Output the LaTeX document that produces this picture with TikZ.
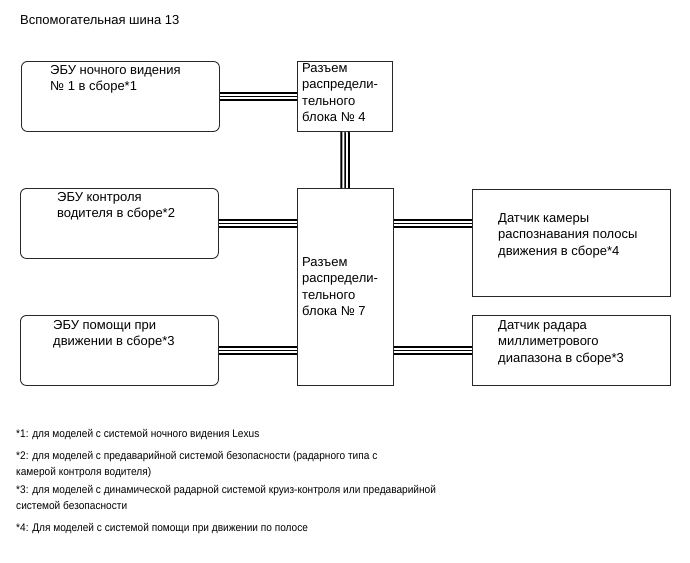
\documentclass[tikz,border=0pt]{standalone}
\usepackage{fontspec}
\setmainfont{Liberation Sans}
\newfontfamily\notefont[FakeStretch=0.92]{Liberation Sans}
\usepackage{tikz}
\usetikzlibrary{positioning, calc}
\definecolor{mydark}{RGB}{40,40,40}
\tikzset{
  ecubox/.style={rectangle, draw=mydark, rounded corners=6pt, line width=0.9pt,
    minimum width=198pt, minimum height=70pt, anchor=north west, inner sep=0pt},
  sqbox/.style={rectangle, draw=mydark, line width=0.9pt,
    anchor=north west, inner sep=0pt},
  txt/.style={anchor=north west, align=left, inner sep=0pt,
    font=\fontsize{13}{16.5}\selectfont},
  note/.style={anchor=north west, align=left, inner sep=0pt,
    font=\notefont\fontsize{11}{16.5}\selectfont},
  bus/.style={line width=2pt, double=white, double distance=5.4pt, draw=black,
    postaction={draw=black, line width=1.4pt}}
}
\begin{document}
\begin{tikzpicture}[x=1pt, y=-1pt]
  \useasboundingbox (0,0) rectangle (690,562);

  \node [txt] (title) at (20,15) {Вспомогательная шина 13};

  % left column
  \node [ecubox] (ecu1) at (21,61) {};
  \node [ecubox] (ecu2) at (20,188) {};
  \node [ecubox] (ecu3) at (20,315) {};
  \node [txt] (ecu1t) at (50,65) {ЭБУ ночного видения\\№ 1 в сборе*1};
  \node [txt] (ecu2t) at (57,192) {ЭБУ контроля\\водителя в сборе*2};
  \node [txt] (ecu3t) at (53,320) {ЭБУ помощи при\\движении в сборе*3};

  % junction blocks
  \node [sqbox, minimum width=95pt, minimum height=70pt] (con4) at (297,61) {};
  \node [sqbox, minimum width=96pt, minimum height=197pt] (con7) at (297,188) {};
  \node [txt] (con4t) at (302,63) {Разъем\\распредели-\\тельного\\блока № 4};
  \node [txt] (con7t) at (302,257) {Разъем\\распредели-\\тельного\\блока № 7};

  % right column
  \node [sqbox, minimum width=198pt, minimum height=107pt] (cam) at (472,189) {};
  \node [sqbox, minimum width=198pt, minimum height=70pt] (radar) at (472,315) {};
  \node [txt] (camt) at (498,213) {Датчик камеры\\распознавания полосы\\движения в сборе*4};
  \node [txt] (radart) at (498,320) {Датчик радара\\миллиметрового\\диапазона в сборе*3};

  % bus lines
  \draw [bus] (ecu1) -- (con4);
  \draw [bus] (con4) -- (con7);
  \draw [bus] (ecu2.east) -- (ecu2.east -| con7.west);
  \draw [bus] (ecu3.east) -- (ecu3.east -| con7.west);
  \draw [bus] (ecu2.east -| con7.east) -- (ecu2.east -| cam.west);
  \draw [bus] (radar.west -| con7.east) -- (radar.west);

  % footnotes
  \node [note] (n1) at (16,429) {*1: для моделей с системой ночного видения Lexus};
  \node [note] (n2) at (16,451) {*2: для моделей с предаварийной системой безопасности (радарного типа с\\камерой контроля водителя)};
  \node [note] (n3) at (16,485) {*3: для моделей с динамической радарной системой круиз-контроля или предаварийной\\системой безопасности};
  \node [note] (n4) at (16,523) {*4: Для моделей с системой помощи при движении по полосе};
\end{tikzpicture}
\end{document}
